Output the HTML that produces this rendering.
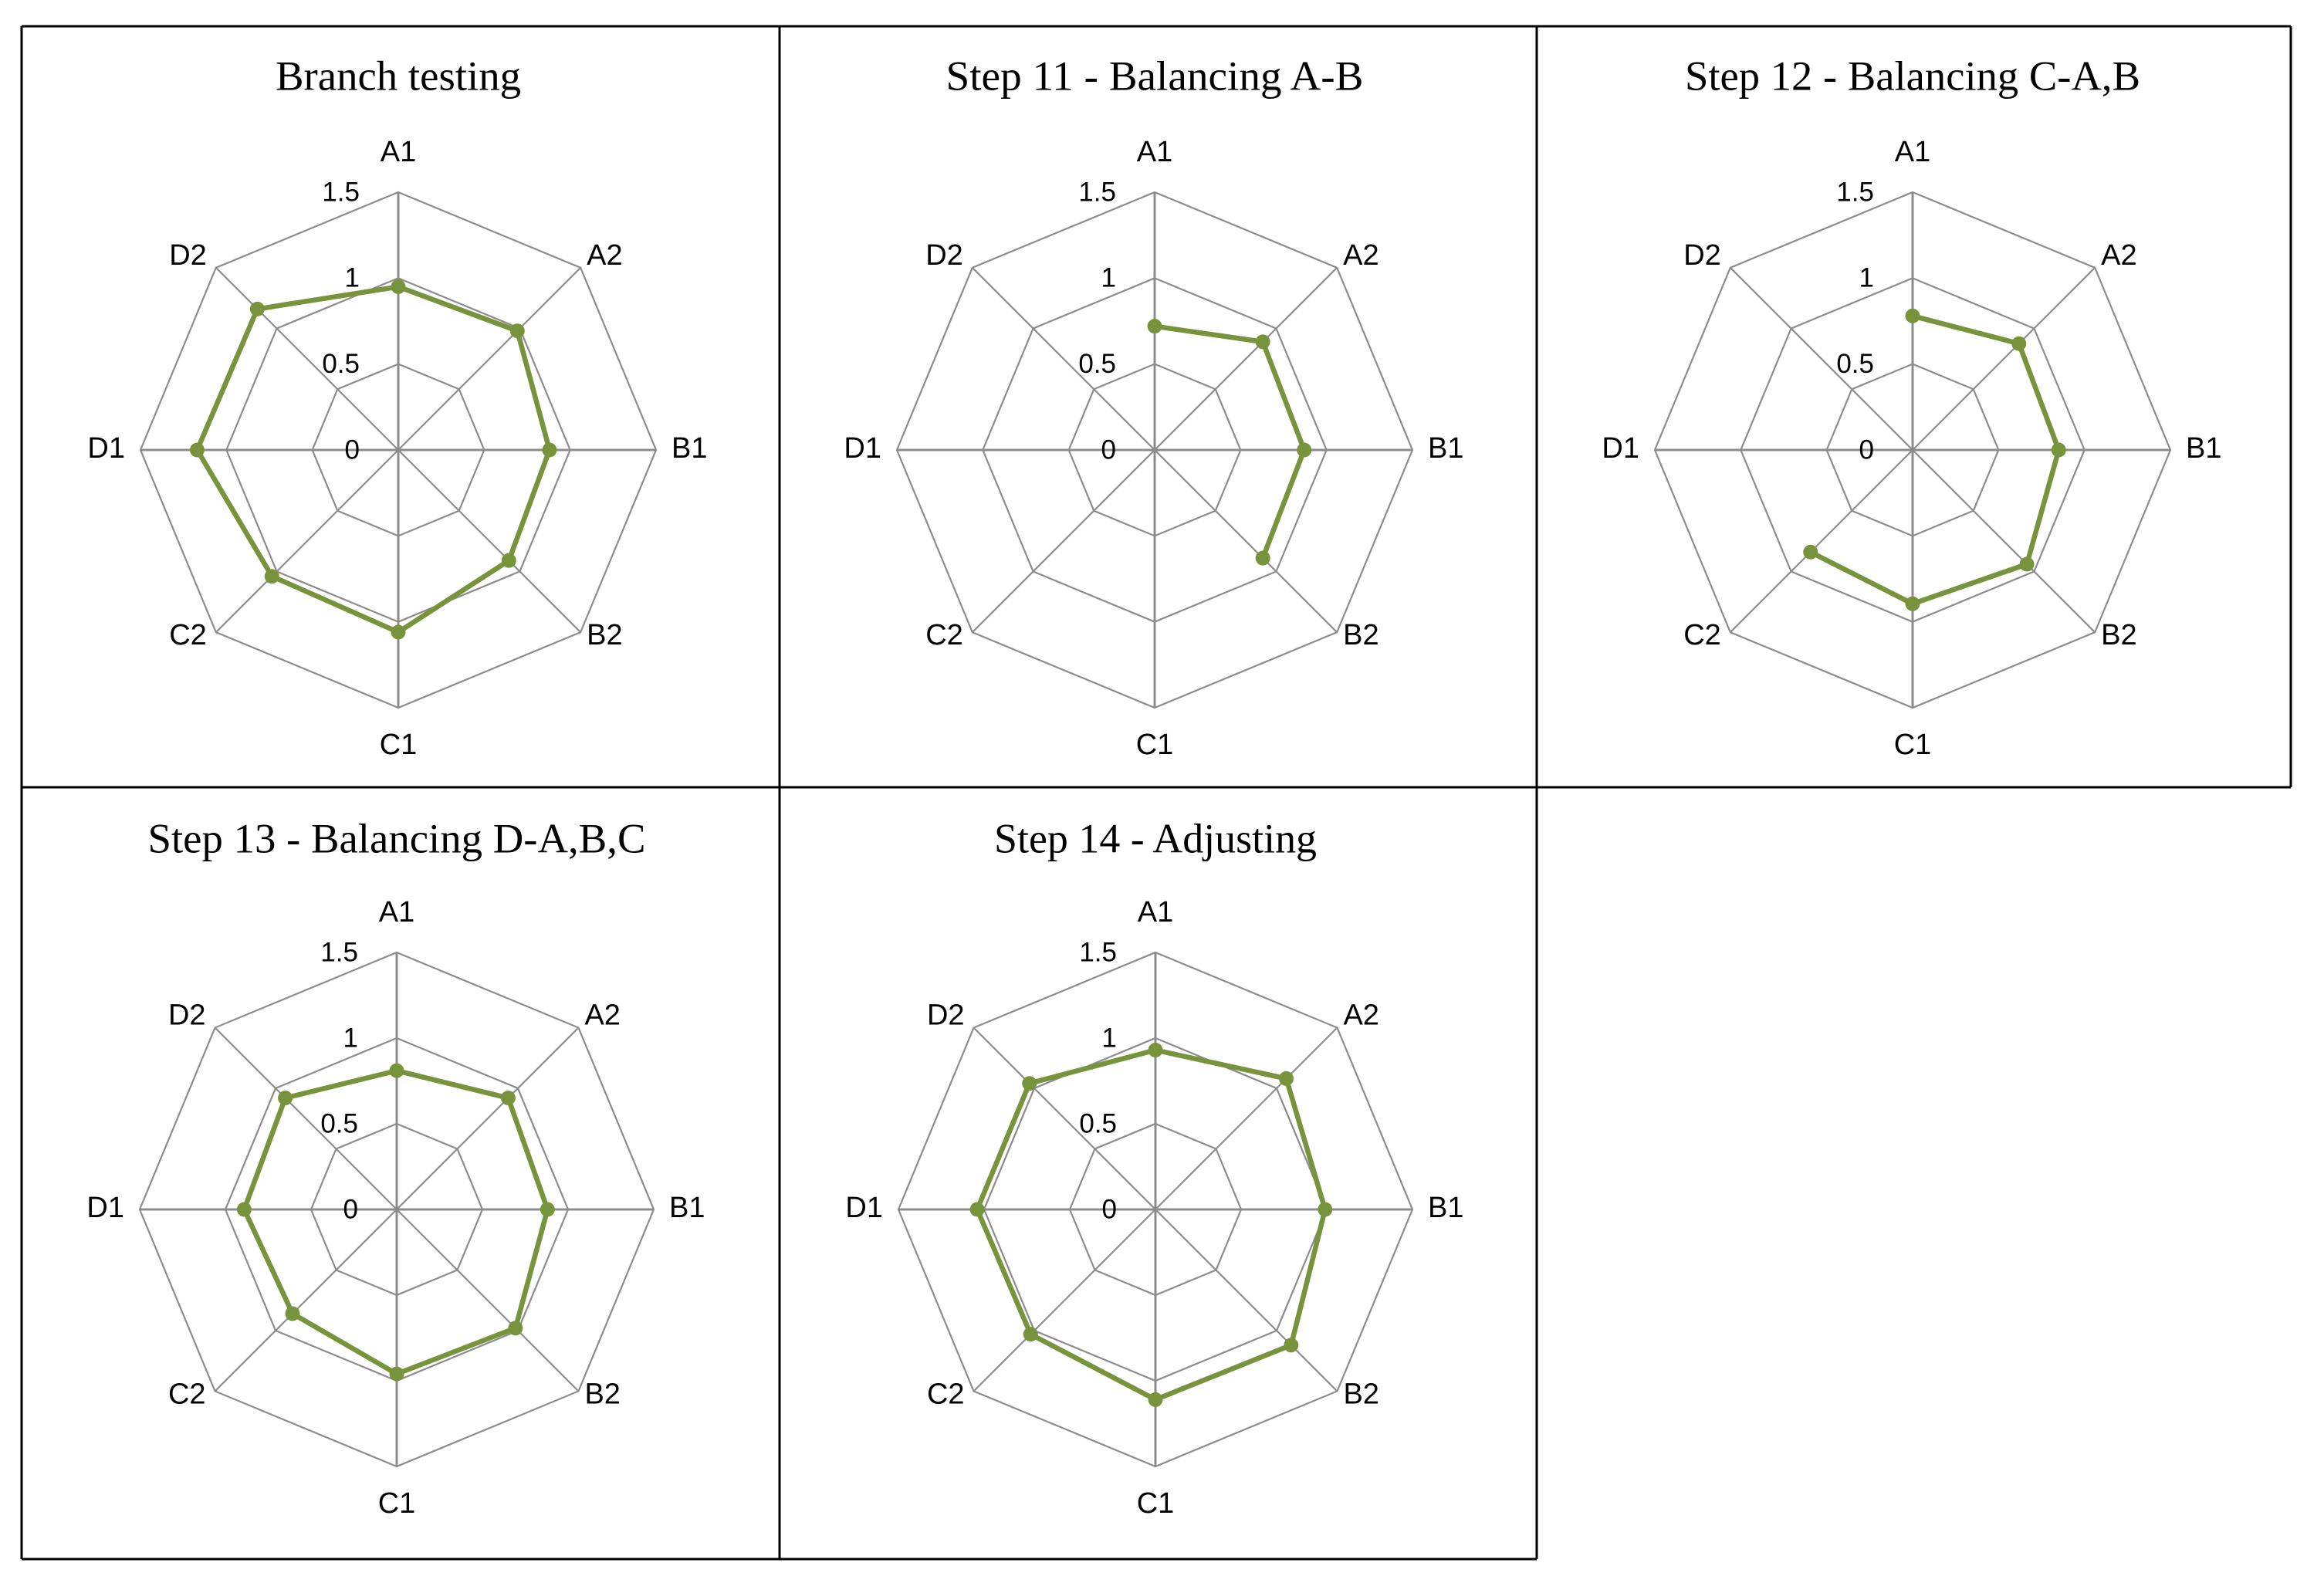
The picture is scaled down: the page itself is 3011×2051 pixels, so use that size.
<!DOCTYPE html>
<html><head><meta charset="utf-8"><style>
html,body{margin:0;padding:0;background:#fff}
svg{display:block}
</style></head><body>
<svg id="fig" width="3011" height="2051" viewBox="0 0 3011 2051" xmlns="http://www.w3.org/2000/svg">
<g stroke="#000" stroke-width="3" fill="none">
<line x1="28" y1="34" x2="2968" y2="34"/>
<line x1="28" y1="1020" x2="2968" y2="1020"/>
<line x1="28" y1="2020" x2="1991" y2="2020"/>
<line x1="28" y1="34" x2="28" y2="2020"/>
<line x1="1010" y1="34" x2="1010" y2="2020"/>
<line x1="1991" y1="34" x2="1991" y2="2020"/>
<line x1="2968" y1="34" x2="2968" y2="1020"/>
</g>
</svg>
<script>
const categories = ["A1","A2","B1","B2","C1","C2","D1","D2"];
const ticks = [0, 0.5, 1, 1.5];
const tickLabels = ["0","0.5","1","1.5"];
const titles = ["Branch testing","Step 11 - Balancing A-B","Step 12 - Balancing C-A,B","Step 13 - Balancing D-A,B,C","Step 14 - Adjusting"];
const seriesBranch = [0.95,0.98,0.88,0.91,1.06,1.04,1.17,1.16];
const seriesStep11 = [0.72,0.89,0.87,0.89,null,null,null,null];
const seriesStep12 = [0.78,0.875,0.85,0.94,0.895,0.84,null,null];
const seriesStep13 = [0.81,0.92,0.88,0.98,0.96,0.86,0.89,0.92];
const seriesStep14 = [0.93,1.08,0.99,1.12,1.11,1.03,1.04,1.04];
const allSeries = [seriesBranch,seriesStep11,seriesStep12,seriesStep13,seriesStep14];
const maxVal = 1.5;

const NS="http://www.w3.org/2000/svg";
const svg=document.getElementById('fig');
function mk(tag,attrs,parent){const e=document.createElementNS(NS,tag);for(const k in attrs)e.setAttribute(k,attrs[k]);parent.appendChild(e);return e;}

const layout=[
 {cx:516,cy:583,R:334,ty:104},
 {cx:1496,cy:583,R:334,ty:104},
 {cx:2478,cy:583,R:334,ty:104},
 {cx:514,cy:1567,R:333,ty:1092},
 {cx:1497,cy:1567,R:333,ty:1092}
];
const titleW=[318,541,590,645,418];

layout.forEach((L,p)=>{
 const g=mk('g',{},svg);
 
 
 const n=categories.length;
 const ang=i=>-Math.PI/2+i*2*Math.PI/n;
 const rScale=v=>v/maxVal*L.R;
 const pt=(i,v)=>[L.cx+rScale(v)*Math.cos(ang(i)),L.cy+rScale(v)*Math.sin(ang(i))];
 const t=mk('text',{x:L.cx,y:L.ty,'text-anchor':'middle','dominant-baseline':'middle','font-family':'"Liberation Serif", serif','font-size':54,fill:'#000',textLength:titleW[p],lengthAdjust:'spacingAndGlyphs'},g);
 t.textContent=titles[p];
 
 
 ticks.forEach((tv,k)=>{
  if(tv===0)return;
  const pts=categories.map((c,i)=>pt(i,tv).join(',')).join(' ');
  const ring=mk('polygon',{points:pts,fill:'none',stroke:'#8c8c8c','stroke-width':2.2},g);
  
  
 });
 categories.forEach((c,i)=>{
  const e=pt(i,maxVal);
  const s=mk('line',{x1:L.cx,y1:L.cy,x2:e[0],y2:e[1],stroke:'#8c8c8c','stroke-width':(i%2===0)?3:2.2},g);
  
  
 });
 ticks.forEach((tv,k)=>{
  const y=L.cy-rScale(tv);
  const tl=mk('text',{x:L.cx-50,y:y+2,'text-anchor':'end','dominant-baseline':'middle','font-family':'"Liberation Sans", sans-serif','font-size':35,fill:'#000'},g);
  tl.textContent=tickLabels[k];
  
  
 });
 categories.forEach((c,i)=>{
  const e=pt(i,maxVal);
  let x=e[0],y=e[1],anchor='middle';
  const dx=Math.cos(ang(i)),dy=Math.sin(ang(i));
  if(Math.abs(dx)<0.01){y+=dy*50;}
  else if(Math.abs(dy)<0.01){x+=dx*20;anchor=dx>0?'start':'end';}
  else{x+=dx>0?8:-12;anchor=dx>0?'start':'end';y+=dy<0?-14:6;}
  const cl=mk('text',{x:x,y:y,'text-anchor':anchor,'dominant-baseline':'middle','font-family':'"Liberation Sans", sans-serif','font-size':38,fill:'#000'},g);
  cl.textContent=c;
  
  
 });
 const data=allSeries[p];
 const valid=[];
 data.forEach((v,i)=>{if(v!==null)valid.push(i);});
 let d='';
 valid.forEach((i,k)=>{const q=pt(i,data[i]);d+=(k?'L':'M')+q[0].toFixed(1)+','+q[1].toFixed(1);});
 if(valid.length===n)d+='Z';
 const line=mk('path',{d:d,fill:'none',stroke:'#77933C','stroke-width':6.5,'stroke-linejoin':'round'},g);
 
 
 valid.forEach(i=>{
  const q=pt(i,data[i]);
  const m=mk('circle',{cx:q[0],cy:q[1],r:9.5,fill:'#77933C'},g);
  
  
 });
});
</script>
</body></html>
